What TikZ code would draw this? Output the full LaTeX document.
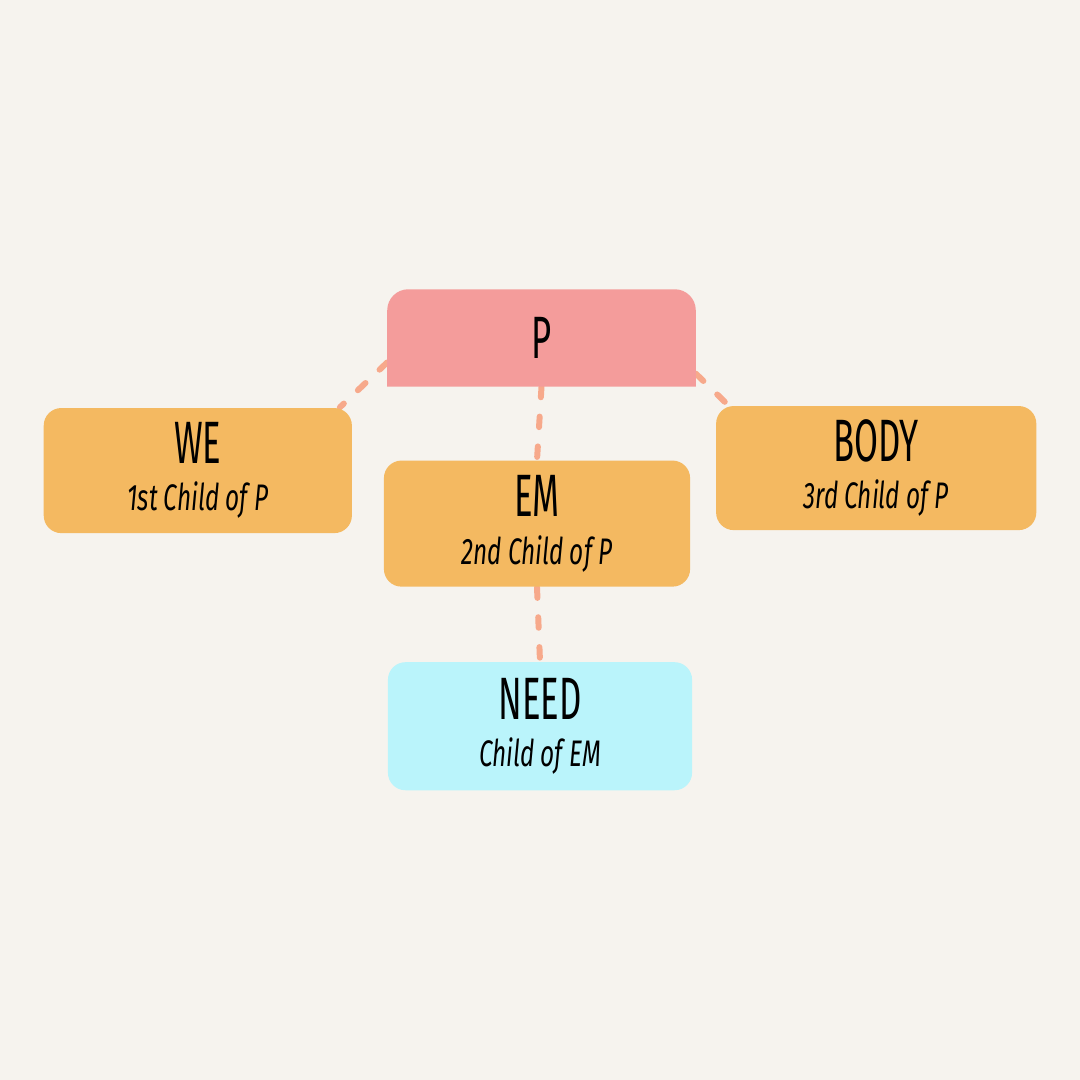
\documentclass[tikz,border=0pt]{standalone}
\usepackage{fontspec}
\newfontfamily\titlefont[FakeStretch=0.58]{Fira Sans}
\newfontfamily\childfont[FakeStretch=0.66]{Fira Sans}
\usetikzlibrary{backgrounds}

\definecolor{paper}{HTML}{F6F3EE}
\definecolor{rootpink}{HTML}{F49C9B}
\definecolor{childorange}{HTML}{F4B961}
\definecolor{grandcyan}{HTML}{BAF4FB}
\definecolor{linksalmon}{HTML}{F7A98B}

\tikzset{%
  % Specifications for style of nodes:
        base/.style = {rectangle, inner sep=0pt, minimum width=3.07cm,
                       minimum height=1.26cm, align=center},
    rootnode/.style = {base, minimum height=0.96cm,
                       font=\titlefont\fontsize{17}{20}\selectfont},
   childnode/.style = {base, rounded corners=5pt, fill=childorange},
   grandnode/.style = {base, rounded corners=5pt, fill=grandcyan,
                       minimum width=3.04cm, minimum height=1.28cm},
  % dashed lines between the nodes
    linkline/.style = {draw=linksalmon, line width=1.7pt, line cap=round,
                       dash pattern=on 3pt off 5.5pt},
}
\newcommand{\nodetext}[2]{{\titlefont\fontsize{17}{20}\selectfont #1}\\[1.5pt]
  {\childfont\itshape\fontsize{10.5}{12}\selectfont #2}}

\begin{document}
\begin{tikzpicture}[x=0.01cm, y=-0.01cm, node distance=1.5cm]
  \useasboundingbox (0,0) rectangle (1080,1080);

  % Specification of nodes (position, etc.)
  \node (p)    [rootnode] at (541.5,338) {P};
  \node (em)   [childnode, below of=p, xshift=-0.045cm, yshift=-0.355cm,
                minimum width=3.06cm]
               {\nodetext{EM}{2nd Child of P}};
  \node (we)   [childnode, left of=p, xshift=-1.935cm, yshift=-1.325cm,
                minimum width=3.08cm, minimum height=1.25cm]
               {\nodetext{WE}{1st Child of P}};
  \node (body) [childnode, right of=p, xshift=1.845cm, yshift=-1.30cm,
                minimum width=3.20cm, minimum height=1.24cm]
               {\nodetext{BODY}{3rd Child of P}};
  \node (need) [grandnode, below of=em, xshift=0.03cm, yshift=-0.525cm]
               {\nodetext{NEED}{Child of EM}};

  \begin{pgfonlayer}{background}
    \fill[paper] (0,0) rectangle (1080,1080);
    % lines between nodes specified above
    \draw[linkline] (p.189)   -- (we.24);
    \draw[linkline] (p.south) -- (em.north);
    \draw[linkline] (p.347)   -- (body.157);
    \draw[linkline] (em.south) -- (need.north);
    % P has round corners on top only
    \fill[rootpink] (p.south west) [rounded corners=6pt] -- (p.north west)
      -- (p.north east) [sharp corners] -- (p.south east) -- cycle;
  \end{pgfonlayer}
\end{tikzpicture}
\end{document}
